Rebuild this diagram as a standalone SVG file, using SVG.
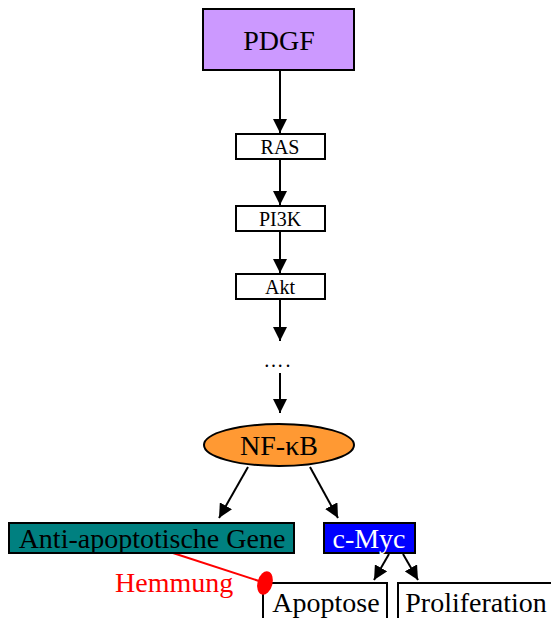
<svg xmlns="http://www.w3.org/2000/svg" width="551" height="618" viewBox="0 0 551 618">
<defs>
<marker id="ah" viewBox="0 0 10 10" refX="10" refY="5" markerWidth="14" markerHeight="14" markerUnits="userSpaceOnUse" orient="auto">
<path d="M0,0 L10,5 L0,10 z" fill="#000"/>
</marker>
<style>
.t{font-family:"Liberation Serif","Times New Roman",serif;fill:#000;text-anchor:middle}
.b{stroke:#000;stroke-width:2}
.c{stroke:#000;stroke-width:2;fill:none;marker-end:url(#ah)}
</style>
</defs>
<rect width="551" height="618" fill="#fff"/>
<g id="connectors">
<line class="c" x1="280" y1="70" x2="280" y2="133"/>
<line class="c" x1="280" y1="159" x2="280" y2="205"/>
<line class="c" x1="280" y1="231" x2="280" y2="273"/>
<line class="c" x1="280" y1="300" x2="280" y2="341"/>
<line class="c" x1="280" y1="373" x2="280" y2="413"/>
<line class="c" x1="248" y1="467" x2="219" y2="518"/>
<line class="c" x1="310" y1="467" x2="338" y2="518"/>
<line class="c" x1="389" y1="554" x2="374" y2="580"/>
<line class="c" x1="403" y1="554" x2="418" y2="580"/>
<line x1="173" y1="553" x2="262" y2="582" stroke="#f00" stroke-width="2"/>
</g>
<g id="pdgf">
<rect class="b" x="203" y="9" width="151" height="61" fill="#CC99FF"/>
<text class="t" x="279" y="50" font-size="28">PDGF</text>
</g>
<g id="ras">
<rect class="b" x="236" y="134" width="89" height="25" fill="#fff"/>
<text class="t" x="280" y="154" font-size="20">RAS</text>
</g>
<g id="pi3k">
<rect class="b" x="236" y="206" width="89" height="25" fill="#fff"/>
<text class="t" x="280" y="226" font-size="20">PI3K</text>
</g>
<g id="akt">
<rect class="b" x="236" y="274" width="89" height="25" fill="#fff"/>
<text class="t" x="280" y="294" font-size="20">Akt</text>
</g>
<g id="dots">
<text class="t" x="278" y="367" font-size="20" letter-spacing="2">….</text>
</g>
<g id="nfkb">
<ellipse class="b" cx="279" cy="445" rx="75" ry="21" fill="#FF9933"/>
<text class="t" x="279" y="455" font-size="28">NF-κB</text>
</g>
<g id="anti">
<rect class="b" x="9" y="523" width="285" height="30" fill="#008080"/>
<text class="t" x="152" y="548" font-size="28">Anti-apoptotische Gene</text>
</g>
<g id="cmyc">
<rect class="b" x="324" y="523" width="91" height="30" fill="#0000FF"/>
<text class="t" x="369" y="548" font-size="28" style="fill:#fff">c-Myc</text>
</g>
<g id="apoptose">
<path class="b" d="M263,620 V583 H387 V620" fill="none"/>
<text class="t" x="326" y="612" font-size="28">Apoptose</text>
</g>
<g id="proliferation">
<path class="b" d="M398,620 V583 H552" fill="none"/>
<text class="t" x="476" y="612" font-size="28">Proliferation</text>
</g>
<g id="hemmung">
<ellipse cx="265" cy="583" rx="7.5" ry="12" transform="rotate(15 265 583)" fill="#f00"/>
<text x="115" y="592" font-size="28" font-family="Liberation Serif, Times New Roman, serif" fill="#f00">Hemmung</text>
</g>
</svg>
